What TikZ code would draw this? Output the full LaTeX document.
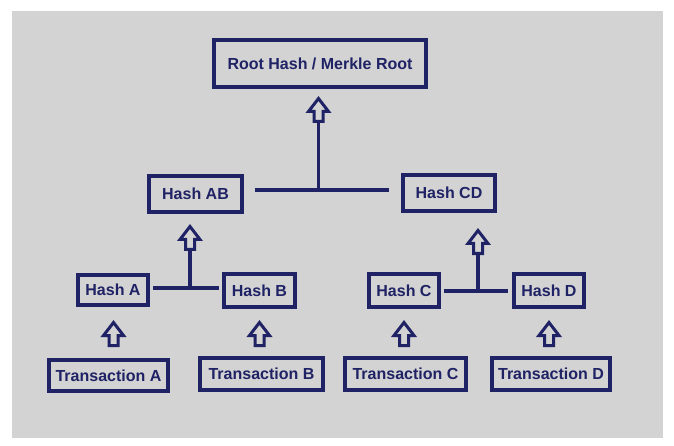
\documentclass[tikz,border=0pt]{standalone}
\usepackage{fontspec}
\setmainfont{Liberation Sans}
\definecolor{navy}{RGB}{31,34,100}
\definecolor{bggray}{RGB}{211,211,211}
\begin{document}
\begin{tikzpicture}[x=1pt,y=-1pt,
  hbox/.style={draw=navy, line width=3.8pt, text=navy, inner sep=0pt,
    font=\fontsize{16}{19}\selectfont\bfseries},
  conn/.style={draw=navy, line width=3.8pt},
  arrowline/.style={draw=navy, line width=3pt, line join=miter},
  hollowup/.pic={
    \draw[arrowline] (0,0) -- (10,13) -- (4.5,13) -- (4.5,23) -- (-4.5,23) -- (-4.5,13) -- (-10,13) -- cycle;
    \coordinate (-base) at (0,24);
  }]
\useasboundingbox (0,0) rectangle (674,446);
\fill[white] (0,0) rectangle (674,446);
\fill[bggray] (12,11) rectangle (663,438);

% nodes
\node[hbox, minimum width=212pt, minimum height=47pt] (root) at (320,63.5) {Root Hash / Merkle Root};
\node[hbox, minimum width=93pt, minimum height=36pt] (ab) at (195.5,194) {Hash AB};
\node[hbox, minimum width=92pt, minimum height=36pt] (cd) at (449,193) {Hash CD};
\node[hbox, minimum width=70pt, minimum height=30pt] (ha) at (113,290) {Hash A};
\node[hbox, minimum width=71pt, minimum height=33pt] (hb) at (259.5,290.5) {Hash B};
\node[hbox, minimum width=70pt, minimum height=33pt] (hc) at (404,290.5) {Hash C};
\node[hbox, minimum width=70pt, minimum height=33pt] (hd) at (549,290.5) {Hash D};
\node[hbox, minimum width=119pt, minimum height=31pt] (ta) at (108.5,375.5) {Transaction A};
\node[hbox, minimum width=123pt, minimum height=32pt] (tb) at (261.5,374) {Transaction B};
\node[hbox, minimum width=121pt, minimum height=32pt] (tc) at (405.5,374) {Transaction C};
\node[hbox, minimum width=118pt, minimum height=32pt] (td) at (551,374) {Transaction D};

% top join
\coordinate (j1) at (318.5,190);
\pic (u1) at (318.5,98.5) {hollowup};
\draw[conn] ([xshift=11pt]ab.east |- j1) -- ([xshift=-12pt]cd.west |- j1);
\draw[conn] (j1) -- (u1-base);

% left join
\coordinate (j2) at (190,288);
\pic (u2) at (190,226.5) {hollowup};
\draw[conn] ([xshift=3pt]ha.east |- j2) -- ([xshift=-3pt]hb.west |- j2);
\draw[conn] (j2) -- (u2-base);

% right join
\coordinate (j3) at (478,291);
\pic (u3) at (478,230.5) {hollowup};
\draw[conn] ([xshift=3pt]hc.east |- j3) -- ([xshift=-4pt]hd.west |- j3);
\draw[conn] (j3) -- (u3-base);

% transaction arrows
\pic (ua) at (113.5,322.5) {hollowup};
\pic (ub) at (259.5,322.5) {hollowup};
\pic (uc) at (404,322.5) {hollowup};
\pic (ud) at (549,322.5) {hollowup};
\end{tikzpicture}
\end{document}
